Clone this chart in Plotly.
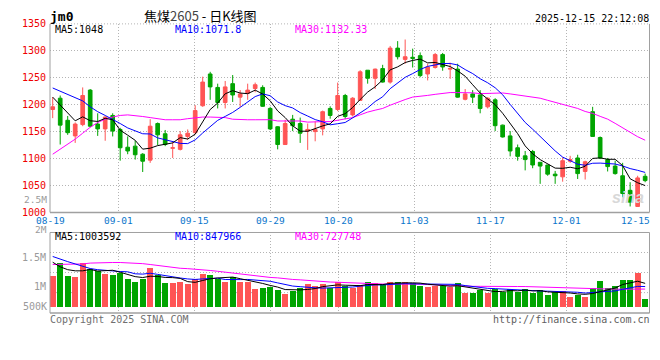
import plotly.graph_objects as go

W, H = 660, 360

# ---------------- data ----------------
DATES = [
    "08-19", "08-20", "08-21", "08-22", "08-25", "08-26", "08-27", "08-28", "08-29",
    "09-01", "09-02", "09-03", "09-04", "09-05", "09-08", "09-09", "09-10", "09-11", "09-12",
    "09-15", "09-16", "09-17", "09-18", "09-19", "09-22", "09-23", "09-24", "09-25", "09-26",
    "09-29", "09-30", "10-09", "10-10", "10-13", "10-14", "10-15", "10-16", "10-17",
    "10-20", "10-21", "10-22", "10-23", "10-24", "10-27", "10-28", "10-29", "10-30", "10-31",
    "11-03", "11-04", "11-05", "11-06", "11-07", "11-10", "11-11", "11-12", "11-13", "11-14",
    "11-17", "11-18", "11-19", "11-20", "11-21", "11-24", "11-25", "11-26", "11-27", "11-28",
    "12-01", "12-02", "12-03", "12-04", "12-05", "12-08", "12-09", "12-10", "12-11", "12-12",
    "12-15", "12-16",
]
LABEL_DATES = ["08-19", "09-01", "09-15", "09-29", "10-20", "11-03", "11-17", "12-01", "12-15"]

OPEN = [1191, 1212, 1171, 1142, 1163, 1227, 1164, 1155, 1180, 1154,
        1121, 1123, 1108, 1097, 1165, 1146, 1119, 1117, 1141, 1148,
        1198, 1257, 1232, 1204, 1239, 1214, 1221, 1230, 1232, 1193,
        1159, 1126, 1173, 1165, 1151, 1150, 1155, 1193, 1191, 1217,
        1181, 1208, 1264, 1249, 1267, 1242, 1305, 1284, 1288, 1291,
        1257, 1269, 1293, 1266, 1266, 1210, 1220, 1218, 1196, 1209,
        1162, 1142, 1120, 1105, 1113, 1093, 1088, 1071, 1066, 1095,
        1101, 1076, 1187, 1139, 1098, 1086, 1068, 1041, 1011, 1067]
HIGH = [1214, 1217, 1179, 1167, 1232, 1229, 1184, 1178, 1184, 1157,
        1141, 1133, 1110, 1173, 1167, 1153, 1132, 1151, 1154, 1199,
        1252, 1261, 1239, 1244, 1255, 1227, 1239, 1241, 1236, 1196,
        1160, 1172, 1181, 1176, 1165, 1169, 1189, 1197, 1241, 1220,
        1214, 1264, 1264, 1267, 1274, 1309, 1318, 1321, 1304, 1297,
        1276, 1296, 1296, 1278, 1276, 1229, 1227, 1227, 1214, 1212,
        1163, 1151, 1126, 1114, 1116, 1093, 1088, 1077, 1102, 1105,
        1107, 1096, 1196, 1141, 1101, 1096, 1092, 1056, 1068, 1072]
LOW = [1175, 1126, 1144, 1129, 1160, 1158, 1142, 1133, 1141, 1096,
       1108, 1098, 1075, 1092, 1125, 1123, 1101, 1115, 1135, 1145,
       1196, 1209, 1193, 1193, 1205, 1196, 1209, 1223, 1196, 1153,
       1117, 1126, 1151, 1129, 1116, 1132, 1143, 1174, 1188, 1173,
       1178, 1207, 1239, 1229, 1241, 1239, 1284, 1276, 1269, 1251,
       1245, 1267, 1263, 1248, 1213, 1208, 1203, 1184, 1193, 1151,
       1139, 1104, 1096, 1078, 1082, 1053, 1068, 1053, 1057, 1092,
       1062, 1061, 1141, 1099, 1076, 1070, 1028, 1011, 1010, 1056]
CLOSE = [1196, 1162, 1148, 1164, 1217, 1160, 1155, 1177, 1151, 1120,
         1114, 1107, 1095, 1160, 1144, 1126, 1120, 1144, 1147, 1189,
         1242, 1233, 1204, 1233, 1218, 1220, 1227, 1237, 1197, 1155,
         1126, 1165, 1161, 1147, 1154, 1154, 1187, 1180, 1217, 1178,
         1212, 1261, 1249, 1266, 1242, 1305, 1289, 1289, 1286, 1254,
         1270, 1293, 1270, 1267, 1214, 1220, 1214, 1193, 1212, 1161,
         1140, 1114, 1104, 1098, 1088, 1086, 1071, 1068, 1096, 1098,
         1072, 1094, 1141, 1101, 1085, 1072, 1035, 1019, 1064, 1059]

MA5 = [1214, 1199, 1184, 1170, 1177.4, 1170.2, 1168.8, 1174.6, 1172.0, 1152.6,
       1143.4, 1133.8, 1117.4, 1119.2, 1124.0, 1126.4, 1129.0, 1138.8, 1136.2, 1145.2,
       1168.4, 1191.0, 1203.0, 1220.2, 1226.0, 1221.6, 1220.4, 1227.0, 1219.8, 1207.2,
       1188.4, 1176.0, 1160.8, 1150.8, 1150.6, 1156.2, 1160.6, 1164.4, 1178.4, 1183.2,
       1194.8, 1209.6, 1223.4, 1233.2, 1246.0, 1264.6, 1270.2, 1278.2, 1282.2, 1284.6,
       1277.6, 1278.4, 1274.6, 1270.8, 1262.8, 1252.8, 1237.0, 1221.6, 1210.6, 1200.0,
       1184.0, 1164.0, 1146.2, 1123.4, 1108.8, 1098.0, 1089.4, 1082.2, 1081.8, 1083.8,
       1081.0, 1085.6, 1100.2, 1101.2, 1098.6, 1098.6, 1086.8, 1062.4, 1055.0, 1049.8]
MA10 = [1231, 1225, 1220, 1213, 1207, 1196, 1187, 1180, 1173, 1165.0,
        1156.8, 1151.3, 1146.0, 1145.6, 1138.3, 1134.9, 1131.4, 1128.1, 1127.7, 1134.6,
        1147.4, 1160.0, 1170.9, 1178.2, 1185.6, 1195.0, 1205.7, 1215.0, 1220.0, 1216.6,
        1205.0, 1198.2, 1193.9, 1185.3, 1178.9, 1172.3, 1168.3, 1162.6, 1164.6, 1166.9,
        1175.5, 1185.1, 1193.9, 1205.8, 1214.6, 1229.7, 1239.9, 1250.8, 1257.7, 1265.3,
        1271.1, 1274.3, 1276.4, 1276.5, 1273.7, 1265.2, 1257.7, 1248.1, 1240.7, 1231.4,
        1218.4, 1200.5, 1183.9, 1167.0, 1154.4, 1141.0, 1126.7, 1114.2, 1102.6, 1096.3,
        1089.5, 1087.5, 1091.2, 1091.5, 1091.2, 1089.8, 1086.2, 1081.3, 1078.1, 1074.2]
MA30 = [1108, 1117, 1126, 1136, 1147, 1158, 1167, 1173, 1177, 1180,
        1181, 1180, 1178, 1176, 1174, 1172, 1172, 1172, 1174, 1176,
        1177, 1177, 1177, 1176, 1173, 1172, 1172, 1172, 1172, 1172.1,
        1169.7, 1169.8, 1170.3, 1169.7, 1167.6, 1167.4, 1168.5, 1168.6, 1170.8, 1172.7,
        1176.0, 1181.1, 1186.2, 1189.8, 1193.0, 1199.0, 1204.6, 1209.5, 1214.1, 1216.3,
        1217.2, 1219.2, 1221.4, 1222.5, 1222.4, 1222.4, 1222.0, 1220.5, 1221.0, 1221.2,
        1221.7, 1220.0, 1218.1, 1216.4, 1214.2, 1212.0, 1208.1, 1204.4, 1200.3, 1197.7,
        1193.0, 1187.4, 1183.8, 1178.3, 1173.1, 1165.3, 1156.9, 1147.9, 1140.5, 1134.0]

VOLUME = [1185000, 1415000, 1185000, 1168000, 1399000, 1303000, 1275000, 1219000, 1202000, 1224000,
          1135000, 1067000, 1135000, 1320000, 1202000, 1051000, 1051000, 1067000, 1039000, 1135000,
          1219000, 1202000, 1135000, 1084000, 1163000, 1079000, 1079000, 949000, 978000, 994000,
          933000, 865000, 921000, 978000, 1034000, 1006000, 1034000, 966000, 1084000, 1011000,
          978000, 1022000, 1067000, 1051000, 1034000, 1084000, 1067000, 1067000, 1051000, 1011000,
          989000, 1011000, 1011000, 994000, 1051000, 882000, 882000, 938000, 882000, 955000,
          910000, 949000, 910000, 949000, 882000, 933000, 848000, 893000, 927000, 820000,
          854000, 810000, 966000, 1101000, 966000, 1011000, 1118000, 1107000, 1241000, 781000]
VOL_MA5 = [1420000, 1340000, 1290000, 1270000, 1270000, 1294000, 1266000, 1273000, 1280000, 1245000,
           1211000, 1169000, 1153000, 1176000, 1172000, 1155000, 1152000, 1138000, 1082000, 1069000,
           1102000, 1132000, 1146000, 1155000, 1161000, 1133000, 1108000, 1071000, 1050000, 1016000,
           987000, 944000, 938000, 938000, 946000, 961000, 995000, 1004000, 1025000, 1020000,
           1015000, 1012000, 1032000, 1026000, 1030000, 1052000, 1061000, 1061000, 1061000, 1056000,
           1037000, 1026000, 1015000, 1003000, 1011000, 990000, 964000, 949000, 927000, 908000,
           913000, 927000, 921000, 935000, 920000, 925000, 904000, 901000, 897000, 884000,
           868000, 861000, 875000, 910000, 939000, 971000, 1032000, 1061000, 1089000, 1052000]
VOL_MA10 = [1520000, 1470000, 1430000, 1390000, 1350000, 1310000, 1290000, 1275000, 1265000, 1258000,
            1253000, 1218000, 1213000, 1228000, 1208000, 1183000, 1161000, 1145000, 1129000, 1120000,
            1129000, 1142000, 1142000, 1119000, 1115000, 1117000, 1120000, 1108000, 1102000, 1088000,
            1060000, 1026000, 1005000, 994000, 981000, 974000, 969000, 971000, 982000, 983000,
            988000, 1003000, 1018000, 1025000, 1025000, 1033000, 1036000, 1047000, 1043000, 1043000,
            1044000, 1043000, 1038000, 1032000, 1034000, 1013000, 995000, 982000, 965000, 960000,
            952000, 945000, 935000, 931000, 914000, 919000, 916000, 911000, 916000, 902000,
            897000, 883000, 888000, 903000, 912000, 920000, 947000, 968000, 999000, 996000]
VOL_MA30 = [1380000, 1380000, 1382000, 1385000, 1390000, 1405000, 1412000, 1415000, 1415000, 1415000,
            1412000, 1405000, 1395000, 1380000, 1362000, 1342000, 1325000, 1315000, 1308000, 1300000,
            1290000, 1276000, 1262000, 1246000, 1230000, 1212000, 1192000, 1176000, 1163000, 1155000,
            1147000, 1129000, 1120000, 1113000, 1101000, 1091000, 1083000, 1075000, 1071000, 1064000,
            1059000, 1057000, 1055000, 1046000, 1040000, 1041000, 1042000, 1042000, 1042000, 1038000,
            1031000, 1024000, 1020000, 1017000, 1013000, 1007000, 1000000, 1000000, 997000, 995000,
            995000, 997000, 997000, 996000, 991000, 989000, 982000, 980000, 975000, 968000,
            964000, 957000, 954000, 955000, 953000, 951000, 952000, 954000, 960000, 952000]

PRICE_TICKS = [1000, 1050, 1100, 1150, 1200, 1250, 1300, 1350]
VOL_TICKS = [1000000, 1500000]
VOL_TICK_TEXT = ["1M", "1.5M"]

HEADER_CODE = "jm0"
TITLE = "焦煤<span style='color:#444'>2605</span> - 日K线图"
STAMP = "2025-12-15 22:12:08"
MA_LABELS = ["MA5:1048", "MA10:1071.8", "MA30:1132.33"]
VOL_MA_LABELS = ["MA5:1003592", "MA10:847966", "MA30:727748"]

# ---------------- style ----------------
RED = "#ff5555"
GREEN = "#00a400"
BLACK = "#000000"
BLUE = "#0000ff"
MAGENTA = "#ff00ff"
GRID = "#b4b4b4"
FRAME = "#a0a0a0"
DOT = "1px,2px"
MONO = "DejaVu Sans Mono, monospace"
CJK = "Noto Sans CJK SC"
LABEL_RED = "#ee0000"
DATE_BLUE = "#0a76cc"
GRAY = "#9a9a9a"
FS = 10
FS_SMALL = 9.5


def px(x):
    return x / W


def py(y):
    return 1 - y / H


X = list(range(len(DATES)))
X_RANGE = [-0.36, 79.58]
VOL_BASE = 646500
VOL_RANGE = [533700, 1937700]

# grid positions of the date labels (the original spaces them over 79 intervals)
grid_pos = [DATES.index(d) * 80 / 79 - 0.36 for d in LABEL_DATES]

fig = go.Figure()

fig.add_trace(go.Candlestick(
    x=X, open=OPEN, high=HIGH, low=LOW, close=CLOSE,
    increasing=dict(line=dict(color=RED, width=1), fillcolor=RED),
    decreasing=dict(line=dict(color=GREEN, width=1), fillcolor=GREEN),
    whiskerwidth=0, xaxis="x", yaxis="y", hoverinfo="skip",
))
for ser, col in ((MA30, MAGENTA), (MA10, BLUE), (MA5, BLACK)):
    fig.add_trace(go.Scatter(x=X, y=ser, mode="lines", line=dict(color=col, width=1),
                             xaxis="x", yaxis="y", hoverinfo="skip"))

bar_colors = [RED if c >= o else GREEN for o, c in zip(OPEN, CLOSE)]
fig.add_trace(go.Bar(
    x=X, y=[v - VOL_BASE for v in VOLUME], base=VOL_BASE,
    marker=dict(color=bar_colors, line=dict(width=0)), width=0.78,
    xaxis="x2", yaxis="y2", hoverinfo="skip",
))
for ser, col in ((VOL_MA30, MAGENTA), (VOL_MA10, BLUE), (VOL_MA5, BLACK)):
    fig.add_trace(go.Scatter(x=X, y=ser, mode="lines", line=dict(color=col, width=1),
                             xaxis="x2", yaxis="y2", hoverinfo="skip"))

xdom = [px(50), px(649.5)]
common_x = dict(domain=xdom, range=X_RANGE, tickmode="array", tickvals=grid_pos[:-1],
                showticklabels=False, ticks="", showgrid=True, gridcolor=GRID,
                griddash=DOT, gridwidth=1, zeroline=False, showline=False, fixedrange=True)

fig.update_layout(
    width=W, height=H, margin=dict(l=0, r=0, t=0, b=0),
    paper_bgcolor="white", plot_bgcolor="white", showlegend=False, hovermode=False,
    bargap=0,
    xaxis=dict(**common_x, anchor="y", rangeslider=dict(visible=False)),
    xaxis2=dict(**common_x, anchor="y2"),
    yaxis=dict(domain=[py(213.5), py(18.5)], range=[1000, 1350], tickmode="array",
               tickvals=PRICE_TICKS, ticktext=[str(t) for t in PRICE_TICKS],
               tickfont=dict(family=MONO, size=FS, color=LABEL_RED), ticks="",
               ticklabelstandoff=3, showgrid=True, gridcolor=GRID, griddash=DOT,
               zeroline=False, showline=False, fixedrange=True),
    yaxis2=dict(domain=[py(317.7), py(234.3)], range=VOL_RANGE, tickmode="array",
                tickvals=VOL_TICKS, ticktext=VOL_TICK_TEXT,
                tickfont=dict(family=MONO, size=FS, color=GRAY), ticks="",
                ticklabelstandoff=3, showgrid=False, zeroline=False, showline=False,
                fixedrange=True),
)

shapes = []


def line(x0, y0, x1, y1, color=FRAME, width=1, dash="solid"):
    shapes.append(dict(type="line", xref="paper", yref="paper", x0=px(x0), y0=py(y0),
                       x1=px(x1), y1=py(y1), line=dict(color=color, width=width, dash=dash),
                       layer="above"))


# main frame
line(50, 18.5, 649.5, 18.5, color=GRID, dash=DOT)
line(50, 18.5, 50, 213.5)
line(649.5, 18.5, 649.5, 213.5)
line(50, 213.5, 649.5, 213.5, width=1.5)
# volume frame
line(50, 234.3, 649.5, 234.3, color=FRAME)
line(50, 234.3, 50, 317.7)
line(649.5, 234.3, 649.5, 317.7)
line(50, 317.7, 649.5, 317.7, width=1.5)
for gy in (255.0, 275.7, 296.5):
    shapes.append(dict(type="line", xref="paper", yref="paper", x0=px(50), x1=px(649.5),
                       y0=py(gy), y1=py(gy), line=dict(color=GRID, width=1, dash=DOT),
                       layer="below"))
fig.update_layout(shapes=shapes)

ann = []


def text(x, y, s, color=BLACK, size=FS, family=MONO, xanchor="left", **kw):
    ann.append(dict(x=px(x), y=py(y), xref="paper", yref="paper", text=s, showarrow=False,
                    xanchor=xanchor, yanchor="middle", borderpad=0,
                    font=dict(family=family, size=size, color=color), **kw))


text(49, 10.5, f"<b>{HEADER_CODE}</b>", size=13)
text(200, 9.5, TITLE, size=13, family=CJK, xanchor="center")
text(650, 12.5, STAMP, xanchor="right")
for x0, s, c in zip((53.5, 173.5, 293.5), MA_LABELS, (BLACK, BLUE, MAGENTA)):
    text(x0, 24.5, s, color=c)
for x0, s, c in zip((53.5, 173.5, 293.5), VOL_MA_LABELS, (BLACK, BLUE, MAGENTA)):
    text(x0, 238.8, s, color=c)

# date labels
for d, gx in zip(LABEL_DATES[:-1], grid_pos[:-1]):
    ann.append(dict(x=gx, y=py(222), xref="x", yref="paper", text=d, showarrow=False,
                    xanchor="center", yanchor="middle", borderpad=0,
                    font=dict(family=MONO, size=FS_SMALL, color=DATE_BLUE)))
text(650.5, 222, LABEL_DATES[-1], color=DATE_BLUE, size=FS_SMALL, xanchor="right")

# volume labels outside the panel range
text(47.5, 200.6, "2.5M", color=GRAY, size=FS_SMALL, xanchor="right")
text(47.5, 230.9, "2M", color=GRAY, size=FS_SMALL, xanchor="right")
text(47.5, 310.6, "500K", color=GRAY, xanchor="right")

text(49, 324.3, "Copyright 2025 SINA.COM", color="#707070")
text(650.5, 324.3, "http://finance.sina.com.cn", color="#606060", xanchor="right")

# faint watermark
text(628, 198, "<b><i>sina</i></b>", color="#d8d8d8", size=16, family="Liberation Sans",
     xanchor="center")

fig.update_layout(annotations=ann)

fig.write_html("out.html",
               config={"displayModeBar": False, "staticPlot": True},
               post_script="document.body.style.margin='0';document.body.style.padding='0';")
